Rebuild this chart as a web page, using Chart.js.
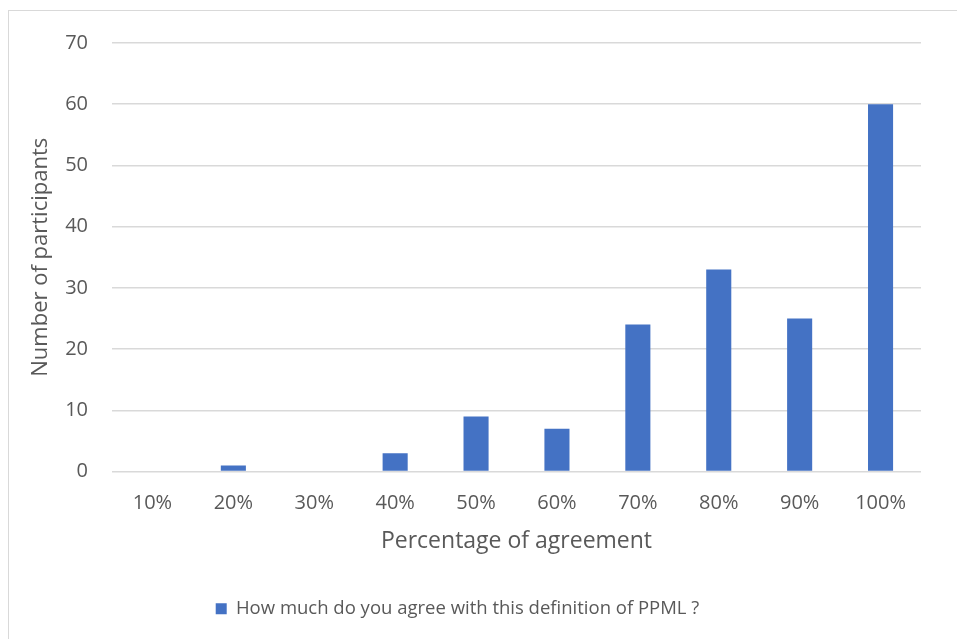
<!DOCTYPE html>
<html>
<head>
<meta charset="utf-8">
<script src="https://cdn.jsdelivr.net/npm/chart.js@4/dist/chart.umd.min.js"></script>
<style>
  html, body { margin: 0; padding: 0; background: #fff; }
  #wrap { position: relative; width: 957px; height: 639px; overflow: hidden; }
  #frame { position: absolute; left: 8px; top: 10px; width: 1000px; height: 700px; border: 1.5px solid #d9d9d9; box-sizing: border-box; }
  canvas { position: absolute; left: 0; top: 0; }
</style>
</head>
<body>
<div id="wrap">
  <div id="frame"></div>
  <canvas id="c" width="957" height="639"></canvas>
</div>
<script>
const categories = ['10%', '20%', '30%', '40%', '50%', '60%', '70%', '80%', '90%', '100%'];
const participants = [0, 1, 0, 3, 9, 7, 24, 33, 25, 60];
const seriesLabel = 'How much do you agree with this definition of PPML ?';
const xTitle = 'Percentage of agreement';
const yTitle = 'Number of participants';

const textColor = '#595959';
const fontFamily = '"Open Sans", "Noto Sans", sans-serif';

const shiftLegend = {
  id: 'shiftLegend',
  afterLayout(chart) {
    const lg = chart.legend;
    if (!lg) return;
    const dx = -17;
    lg.left += dx; lg.right += dx;
    if (lg.legendHitBoxes) lg.legendHitBoxes.forEach(b => { b.left += dx; });
  }
};

new Chart(document.getElementById('c'), {
  type: 'bar',
  data: {
    labels: categories,
    datasets: [{
      label: seriesLabel,
      data: participants,
      backgroundColor: '#4472C4',
      borderWidth: 0,
      barPercentage: 1,
      categoryPercentage: 0.31
    }]
  },
  options: {
    responsive: false,
    animation: false,
    layout: { padding: { left: 28, right: 36, top: 43, bottom: 11 } },
    plugins: {
      legend: {
        position: 'bottom',
        labels: {
          color: textColor,
          font: { family: fontFamily, size: 18.5 },
          boxWidth: 11,
          boxHeight: 11,
          padding: 20
        }
      },
      tooltip: { enabled: false }
    },
    scales: {
      x: {
        grid: { display: false, drawTicks: false },
        border: { display: false },
        ticks: { color: textColor, font: { family: fontFamily, size: 20 }, padding: 20 },
        title: { display: true, text: xTitle, color: textColor, font: { family: fontFamily, size: 23 }, padding: { top: 0, bottom: 24 } },
        afterFit: (s) => { s.height = 108; }
      },
      y: {
        min: 0, max: 70,
        grid: { color: '#d9d9d9', lineWidth: 1.5, drawTicks: false },
        border: { display: false },
        ticks: { stepSize: 10, color: textColor, font: { family: fontFamily, size: 20 }, padding: 24 },
        title: { display: true, text: yTitle, color: textColor, font: { family: fontFamily, size: 22 }, padding: 0 },
        afterFit: (s) => { s.width = 84; }
      }
    }
  },
  plugins: [shiftLegend]
});
</script>
</body>
</html>
